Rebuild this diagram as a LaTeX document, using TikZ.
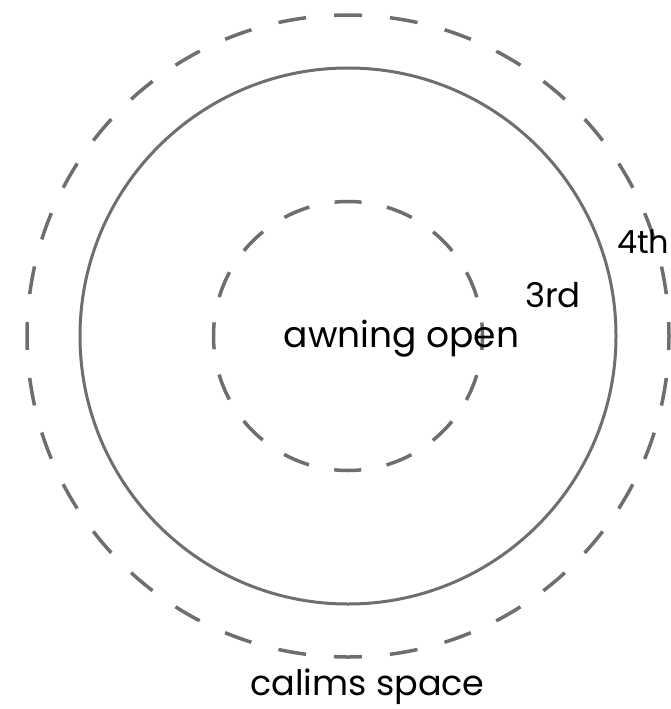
\documentclass[tikz,border=0pt]{standalone}
\usepackage{fontspec}
\setmainfont{Poppins}
\usetikzlibrary{positioning}
\definecolor{ringgray}{HTML}{6D6E71}

\begin{document}
\begin{tikzpicture}[x=1pt, y=-1pt,
  ring/.style={draw=ringgray, line width=3pt},
  dashring/.style={ring, line width=3.5pt},
  lbl/.style={font=\fontsize{33}{40}\selectfont, inner sep=0pt, text=black},
]
\useasboundingbox (0,0) rectangle (670,709);
\coordinate (c) at (348,336);

% rings
\draw[dashring, dash pattern=on 28pt off 28.03pt, dash phase=14pt] (c) circle[radius=321pt];
\draw[ring] (c) circle[radius=268pt];
\draw[dashring, dash pattern=on 27pt off 25.8pt, dash phase=13.5pt] (c) circle[radius=134.5pt];

% labels
\node[lbl, font=\fontsize{36}{40}\selectfont, anchor=base] (open) at (401.5,347) {awning open};
\node[lbl, font=\fontsize{34}{40}\selectfont, anchor=base west] (third) at (525,307) {3rd};
\node[lbl, font=\fontsize{32}{40}\selectfont, anchor=base west] (fourth) at (617,253) {4th};
\node[lbl, font=\fontsize{35}{40}\selectfont, anchor=base] (space) at (367.5,695) {calims space};
\end{tikzpicture}
\end{document}
